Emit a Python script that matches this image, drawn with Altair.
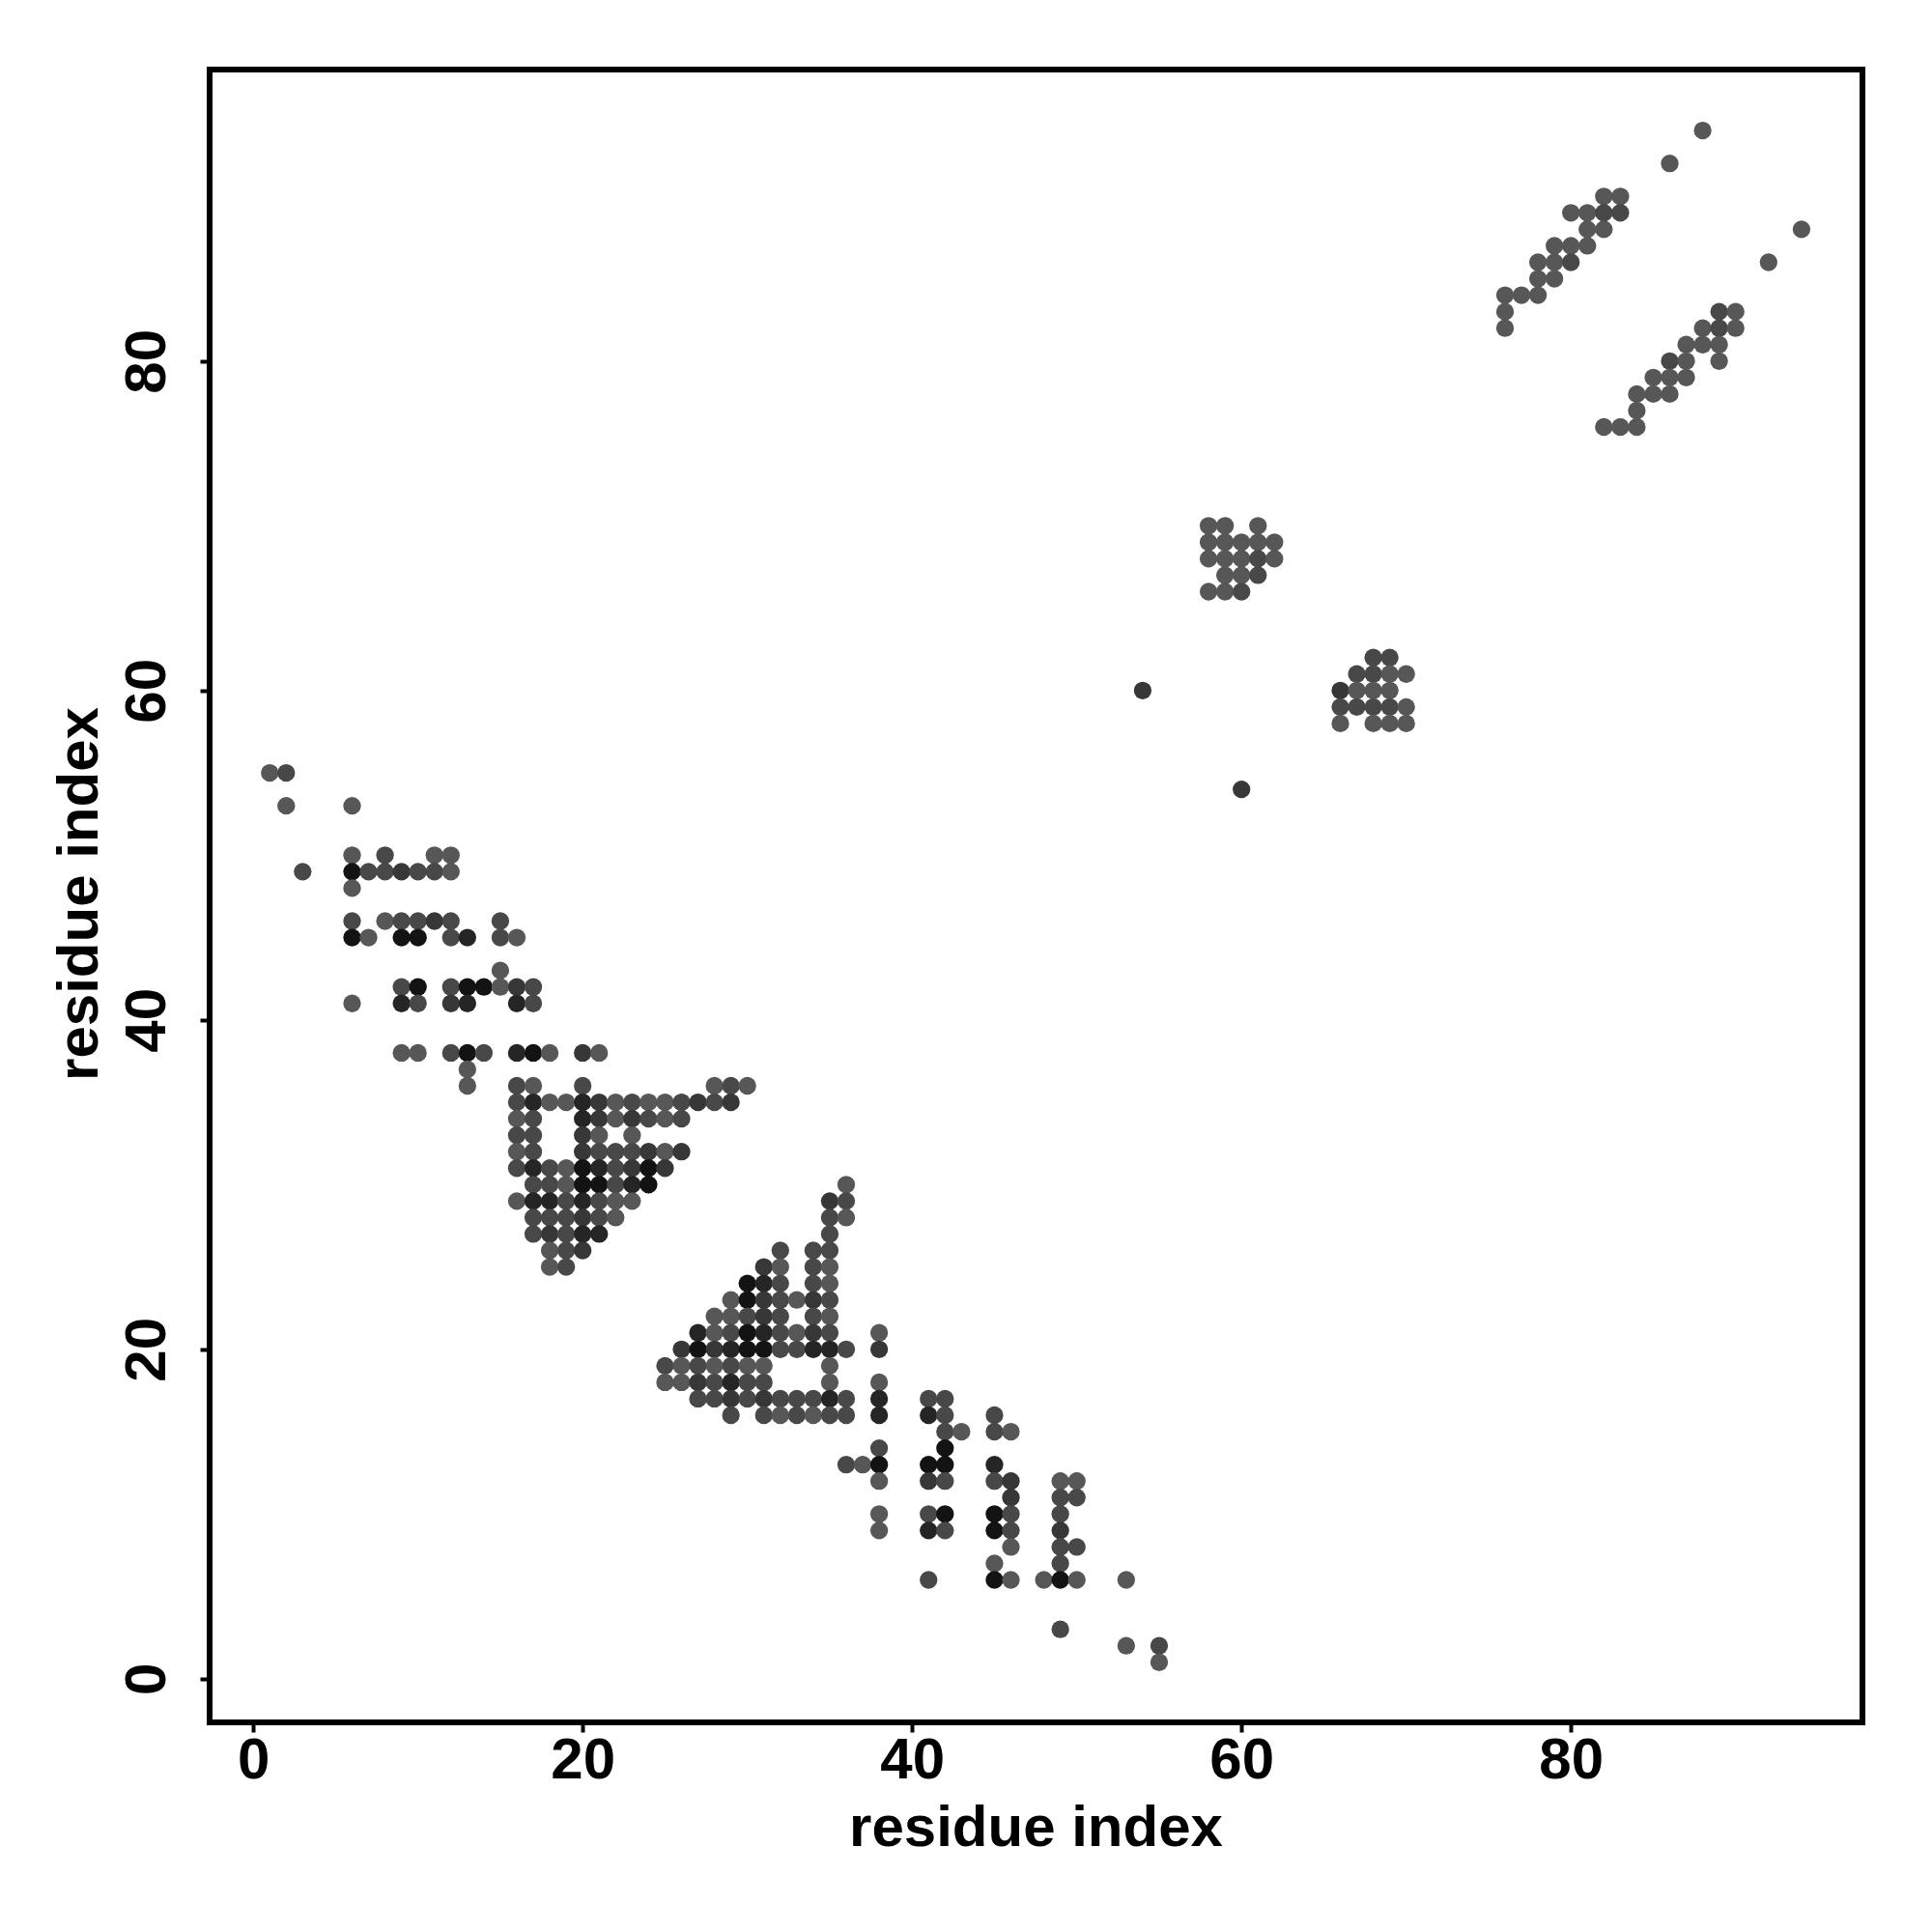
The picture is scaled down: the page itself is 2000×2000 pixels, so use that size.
import altair as alt
import pandas as pd

# Contact map: each row = (residue index on y, residue indices on x, shade level)
ROWS_NTERM = [
    (55, [1, 2], [1, 2]),
    (53, [2, 6], [1, 1]),
    (50, [6, 8, 11, 12], [1, 2, 1, 1]),
    (49, [3, 6, 7, 8, 9, 10, 11, 12], [2, 5, 2, 2, 3, 2, 2, 1]),
    (48, [6], [1]),
    (46, [6, 8, 9, 10, 11, 12, 15], [2, 1, 2, 2, 3, 2, 2]),
    (45, [6, 7, 9, 10, 12, 13, 15, 16], [5, 1, 5, 5, 2, 4, 2, 1]),
    (43, [15], [1]),
    (42, [9, 10, 12, 13, 14, 15, 16, 17], [2, 5, 2, 5, 5, 1, 3, 2]),
    (41, [6, 9, 10, 12, 13, 16, 17], [1, 4, 2, 3, 4, 4, 2]),
    (38, [9, 10, 12, 13, 14, 16, 17, 18, 20, 21], [1, 1, 2, 5, 2, 4, 5, 1, 3, 1]),
    (37, [13], [1]),
    (36, [13, 16, 17, 20, 28, 29, 30], [1, 2, 1, 2, 1, 2, 1]),
    (35, [16, 17, 18, 19, 20, 21, 22, 23, 24, 25, 26, 27, 28, 29],
         [2, 4, 1, 1, 4, 3, 1, 2, 1, 1, 2, 3, 2, 3]),
    (34, [16, 17, 20, 21, 22, 23, 24, 25, 26], [1, 2, 4, 3, 1, 3, 2, 1, 2]),
    (33, [16, 17, 20, 21, 23], [2, 2, 3, 1, 1]),
    (32, [16, 17, 20, 21, 22, 23, 24, 25, 26], [1, 2, 3, 2, 2, 2, 3, 1, 3]),
    (31, [16, 17, 18, 19, 20, 21, 22, 23, 24, 25], [2, 4, 2, 1, 5, 4, 2, 3, 5, 3]),
    (30, [17, 18, 19, 20, 21, 22, 23, 24, 36], [2, 2, 1, 5, 5, 2, 4, 5, 1]),
    (29, [16, 17, 18, 19, 20, 21, 22, 23, 35, 36], [1, 4, 4, 2, 4, 2, 1, 1, 3, 2]),
    (28, [17, 18, 19, 20, 21, 22, 35, 36], [2, 2, 2, 3, 2, 1, 2, 1]),
    (27, [17, 18, 19, 20, 21, 35], [2, 3, 2, 4, 4, 2]),
    (26, [18, 19, 20, 32, 34, 35], [1, 2, 3, 2, 2, 2]),
    (25, [18, 19, 31, 32, 34, 35], [1, 2, 3, 1, 2, 1]),
    (24, [30, 31, 32, 34, 35], [5, 4, 2, 2, 1]),
    (23, [29, 30, 31, 32, 33, 34, 35], [1, 5, 3, 2, 1, 3, 2]),
    (22, [28, 29, 30, 31, 32, 34, 35], [1, 1, 2, 3, 2, 2, 1]),
    (21, [27, 28, 29, 30, 31, 32, 33, 34, 35, 38], [4, 1, 2, 5, 4, 2, 1, 3, 2, 1]),
    (20, [26, 27, 28, 29, 30, 31, 32, 33, 34, 35, 36, 38],
         [3, 5, 3, 4, 5, 5, 2, 2, 4, 4, 2, 3]),
    (19, [25, 26, 27, 28, 29, 30, 31, 35], [2, 1, 2, 1, 2, 1, 1, 1]),
    (18, [25, 26, 27, 28, 29, 30, 31, 35, 38], [1, 1, 3, 2, 4, 2, 2, 1, 1]),
    (17, [27, 28, 29, 30, 31, 32, 33, 34, 35, 36, 38, 41, 42],
         [2, 2, 3, 2, 3, 2, 2, 2, 4, 2, 4, 2, 2]),
    (16, [29, 31, 32, 33, 34, 35, 36, 38, 41, 42, 45], [2, 2, 1, 2, 1, 2, 2, 4, 4, 2, 2]),
    (15, [42, 43, 45, 46], [2, 1, 2, 1]),
    (14, [38, 42], [2, 5]),
    (13, [36, 37, 38, 41, 42, 45], [2, 1, 5, 5, 5, 4]),
    (12, [38, 41, 42, 45, 46, 49, 50], [1, 3, 2, 2, 3, 1, 1]),
    (11, [46, 49, 50], [3, 2, 2]),
    (10, [38, 41, 42, 45, 46, 49], [1, 2, 5, 5, 2, 2]),
    (9, [38, 41, 42, 45, 46, 49], [1, 4, 2, 5, 2, 3]),
    (8, [46, 49, 50], [1, 2, 2]),
    (7, [45, 49], [1, 2]),
    (6, [41, 45, 46, 48, 49, 50, 53], [2, 5, 1, 1, 5, 1, 1]),
    (3, [49], [2]),
    (2, [53, 55], [1, 2]),
    (1, [55], [1]),
]

ROWS_MIDDLE = [
    (70, [58, 59, 61], [1, 1, 1]),
    (69, [58, 59, 60, 61, 62], [1, 1, 1, 1, 1]),
    (68, [58, 59, 60, 61, 62], [1, 1, 1, 2, 1]),
    (67, [59, 60, 61], [1, 1, 2]),
    (66, [58, 59, 60], [1, 1, 2]),
    (62, [68, 69], [2, 2]),
    (61, [67, 68, 69, 70], [2, 2, 1, 1]),
    (60, [54, 66, 67, 68, 69], [3, 3, 1, 1, 1]),
    (59, [66, 67, 68, 69, 70], [2, 2, 2, 2, 1]),
    (58, [66, 68, 69, 70], [1, 1, 1, 1]),
    (54, [60], [3]),
]

ROWS_CTERM = [
    (94, [88], [1]),
    (92, [86], [1]),
    (90, [82, 83], [1, 1]),
    (89, [80, 81, 82, 83], [1, 1, 2, 2]),
    (88, [81, 82, 94], [1, 1, 1]),
    (87, [79, 80, 81], [1, 1, 1]),
    (86, [78, 79, 80, 92], [1, 1, 2, 1]),
    (85, [78, 79], [1, 1]),
    (84, [76, 77, 78], [1, 1, 1]),
    (83, [76, 89, 90], [1, 2, 1]),
    (82, [76, 88, 89, 90], [1, 1, 2, 1]),
    (81, [87, 88, 89], [1, 1, 1]),
    (80, [86, 87, 89], [2, 1, 1]),
    (79, [85, 86, 87], [1, 1, 1]),
    (78, [84, 85, 86], [1, 1, 1]),
    (77, [84], [1]),
    (76, [82, 83, 84], [1, 1, 1]),
]

TICKS = [0, 20, 40, 60, 80]
SHADE_LEVELS = [1, 2, 3, 4, 5]
SHADE_COLORS = ["#575757", "#484848", "#373737", "#252525", "#131313"]

records = []
for rows in (ROWS_NTERM, ROWS_MIDDLE, ROWS_CTERM):
    for yv, xs, lv in rows:
        for xv, l in zip(xs, lv):
            records.append({"i": xv, "j": yv, "level": l})
df = pd.DataFrame(records)

FONT = "Liberation Sans"
dom = [-2.65, 97.7]

chart = (
    alt.Chart(df)
    .mark_circle(size=335, opacity=1)
    .encode(
        x=alt.X(
            "i:Q",
            scale=alt.Scale(domain=dom, nice=False, zero=False),
            axis=alt.Axis(
                values=TICKS, title="residue index", grid=False, domain=False,
                tickSize=10, tickWidth=4, tickColor="black",
                labelFont=FONT, labelFontSize=60, labelFontWeight="bold",
                labelColor="black", labelBaseline="alphabetic", labelPadding=47,
                labelFlush=False,
                titleFont=FONT, titleFontSize=60, titleFontWeight="bold",
                titleColor="black", titleX=855, titleY=127,
                titleAlign="center", titleBaseline="alphabetic",
            ),
        ),
        y=alt.Y(
            "j:Q",
            scale=alt.Scale(domain=dom, nice=False, zero=False),
            axis=alt.Axis(
                values=TICKS, title="residue index", grid=False, domain=False,
                tickSize=10, tickWidth=4, tickColor="black",
                labelFont=FONT, labelFontSize=60, labelFontWeight="bold",
                labelColor="black", labelAngle=270, labelAlign="center",
                labelBaseline="alphabetic", labelPadding=37, labelFlush=False,
                titleFont=FONT, titleFontSize=60, titleFontWeight="bold",
                titleColor="black", titleAngle=270, titleX=-117, titleY=853,
                titleAlign="center", titleBaseline="alphabetic",
            ),
        ),
        color=alt.Color(
            "level:O",
            scale=alt.Scale(domain=SHADE_LEVELS, range=SHADE_COLORS),
            legend=None,
        ),
    )
    .properties(
        width=1711,
        height=1711,
        autosize=alt.AutoSizeParams(type="none"),
        padding={"left": 209, "top": 64, "right": 64, "bottom": 209},
        background="white",
    )
    .configure_view(stroke="black", strokeWidth=6)
)

chart.save("out.html", embed_options={"renderer": "svg", "actions": False})
